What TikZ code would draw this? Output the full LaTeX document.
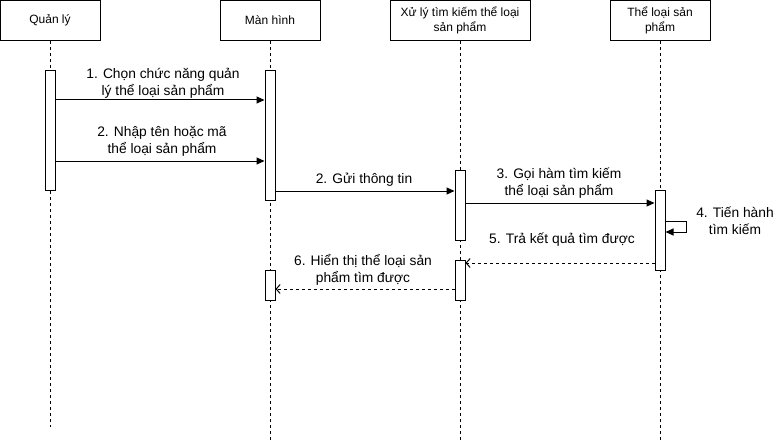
\documentclass[tikz,border=0pt]{standalone}
\usepackage{fontspec}
\setmainfont{Liberation Sans}
\usetikzlibrary{arrows.meta,positioning,calc}

\begin{document}
\begin{tikzpicture}[
      x=1pt, y=-1pt, line width=1pt, font=\fontsize{12}{15}\selectfont,
      head/.style={draw, anchor=north, align=center, minimum width=100pt,
                   minimum height=40pt, inner sep=2pt},
      act/.style={draw, fill=white, anchor=north, minimum width=10pt, inner sep=0pt},
      life/.style={dash pattern=on 3pt off 3pt},
      msg/.style={-{Triangle[length=8pt,width=7pt]}},
      ret/.style={dash pattern=on 3pt off 3pt, -{Straight Barb[length=4pt,width=9pt]}},
      lbl/.style={align=center, inner sep=0pt, font=\fontsize{13.8}{17}\selectfont},
    ]
    \useasboundingbox (0,0) rectangle (778,441);

    % lifeline heads
    \node[head] (quanly) at (50,0) {Quản lý};
    \node[head] (manhinh) at (270,0) {Màn hình};
    \node[head, minimum width=140pt] (xuly) at (460,0) {Xử lý tìm kiếm thể loại\\sản phẩm};
    \node[head] (theloai) at (660,0) {Thể loại sản\\phẩm};

    \coordinate (quanlyend) at (50,427);
    \coordinate (manhinhend) at (270,440);
    \coordinate (xulyend) at (460,440);
    \coordinate (theloaiend) at (660,440);
    \draw[life] (quanly) -- (quanlyend);
    \draw[life] (manhinh) -- (manhinhend);
    \draw[life] (xuly) -- (xulyend);
    \draw[life] (theloai) -- (theloaiend);

    % activation bars
    \node[act, minimum height=120pt] (qla) at (50,70) {};
    \node[act, minimum height=130pt] (mha) at (270,70) {};
    \node[act, minimum height=70pt] (xla) at (460,170) {};
    \node[act, minimum height=80pt] (tla) at (660,190) {};
    \node[act, minimum height=40pt] (xlb) at (460,260) {};
    \node[act, minimum height=30pt] (mhb) at (270,270) {};

    % message levels
    \coordinate (m1) at (0,100);
    \coordinate (m2) at (0,161);
    \coordinate (m3) at (0,191);
    \coordinate (m4) at (0,203);
    \coordinate (m5a) at (686,221);
    \coordinate (m5b) at (686,232);
    \coordinate (m6) at (0,263);
    \coordinate (m7) at (0,289);

    \draw[msg] (qla.east |- m1) -- (mha.west |- m1);
    \draw[msg] (qla.east |- m2) -- (mha.west |- m2);
    \draw[msg] (mha.east |- m3) -- (xla.west |- m3);
    \draw[msg] (xla.east |- m4) -- (tla.west |- m4);
    \draw[msg] (tla.east |- m5a) -- (m5a) -- (m5b) -- (tla.east |- m5b);
    \draw[ret] (tla.west |- m6) -- (xlb.east |- m6);
    \draw[ret] (xlb.west |- m7) -- (mhb.east |- m7);

    \node[lbl] (l1) at (163,83) {1. Chọn chức năng quản\\lý thể loại sản phẩm};
    \node[lbl] (l2) at (162,141) {2. Nhập tên hoặc mã\\thể loại sản phẩm};
    \node[lbl] (l3) at (364,180) {2. Gửi thông tin};
    \node[lbl] (l4) at (559,183) {3. Gọi hàm tìm kiếm\\thể loại sản phẩm};
    \node[lbl] (l5) at (735,221) {4. Tiến hành\\tìm kiếm};
    \node[lbl] (l6) at (562,240) {5. Trả kết quả tìm được};
    \node[lbl] (l7) at (363,270) {6. Hiển thị thể loại sản\\phẩm tìm được};
  \end{tikzpicture}
\end{document}
